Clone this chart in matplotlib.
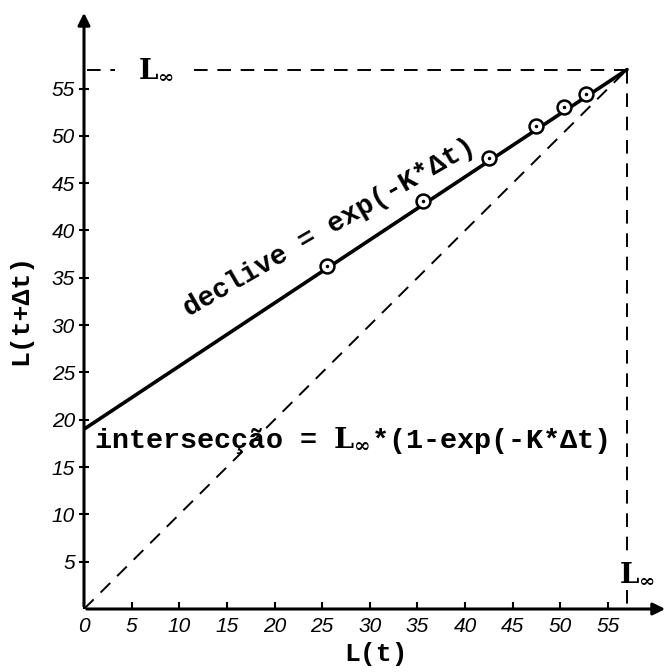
import matplotlib
matplotlib.use("Agg")
import matplotlib.pyplot as plt

# valores (Ford-Walford)
L_inf = 57.0
intercept = 19.0
Lt = [25.5, 35.6, 42.5, 47.4, 50.4, 52.7]
Lt_dt = [36.2, 43.1, 47.7, 51.0, 53.0, 54.4]
xticks = [0, 5, 10, 15, 20, 25, 30, 35, 40, 45, 50, 55]
yticks = [5, 10, 15, 20, 25, 30, 35, 40, 45, 50, 55]

plt.rcParams['mathtext.fontset'] = 'dejavuserif'

fig = plt.figure(figsize=(6.7, 6.72), dpi=100)
ax = fig.add_axes([84/670, 63/672, 584/670, 599/672])
ax.set_xlim(0, 61.3)
ax.set_ylim(0, 63.3)

for s in ax.spines.values():
    s.set_visible(False)

mono = dict(family='Liberation Mono', weight='bold')

# eixos com setas
ax.annotate('', xy=(61.3, 0), xytext=(0, 0),
            arrowprops=dict(arrowstyle='-|>', lw=2.2, color='black', mutation_scale=18),
            annotation_clip=False)
ax.annotate('', xy=(0, 63.3), xytext=(0, 0),
            arrowprops=dict(arrowstyle='-|>', lw=2.2, color='black', mutation_scale=18),
            annotation_clip=False)

# linhas tracejadas
dash = dict(color='black', lw=1.4, dashes=(7, 5))
ax.plot([0, L_inf], [0, L_inf], **dash)
ax.plot([0.3, 3.3], [L_inf, L_inf], **dash)
ax.plot([11.5, L_inf], [L_inf, L_inf], **dash)
ax.plot([L_inf, L_inf], [L_inf, 5.2], **dash)
ax.plot([L_inf, L_inf], [2.0, 0], **dash)

# recta de regressão e pontos
ax.plot([0, L_inf], [intercept, L_inf], color='black', lw=2.6, solid_capstyle='round')
ax.plot(Lt, Lt_dt, 'o', ms=10, mfc='white', mec='black', mew=1.8)
ax.plot(Lt, Lt_dt, '.', ms=3, color='black')

ax.set_xticks(xticks)
ax.set_yticks(yticks)
ax.set_xticklabels([str(v) for v in xticks], fontstyle='italic', family='Liberation Sans', fontsize=15)
ax.set_yticklabels([str(v) for v in yticks], fontstyle='italic', family='Liberation Sans', fontsize=15)
ax.tick_params(axis='x', direction='in', length=5, width=1.5, pad=6)
ax.tick_params(axis='y', direction='inout', length=7, width=1.5, pad=3)

ax.set_xlabel('L(t)', fontsize=19, labelpad=4, **mono)
ax.set_ylabel('L(t+Δt)', fontsize=19, labelpad=14, **mono)

linf = r'$\mathbf{L_{\infty}}$'
ax.text(7.6, L_inf, linf, fontsize=20, ha='center', va='center')
ax.text(58.1, 3.8, linf, fontsize=20, ha='center', va='center', clip_on=False)

ax.text(25.8, 40.3, 'declive = exp(-K*Δt)', rotation=30, ha='center', va='center',
        fontsize=20, rotation_mode='anchor', **mono)
ax.text(1.0, 17.8, 'intersecção = ' + linf + '*(1-exp(-K*Δt)', ha='left', va='center',
        fontsize=20.5, **mono)

fig.savefig('out.png', dpi=100, facecolor='white')
